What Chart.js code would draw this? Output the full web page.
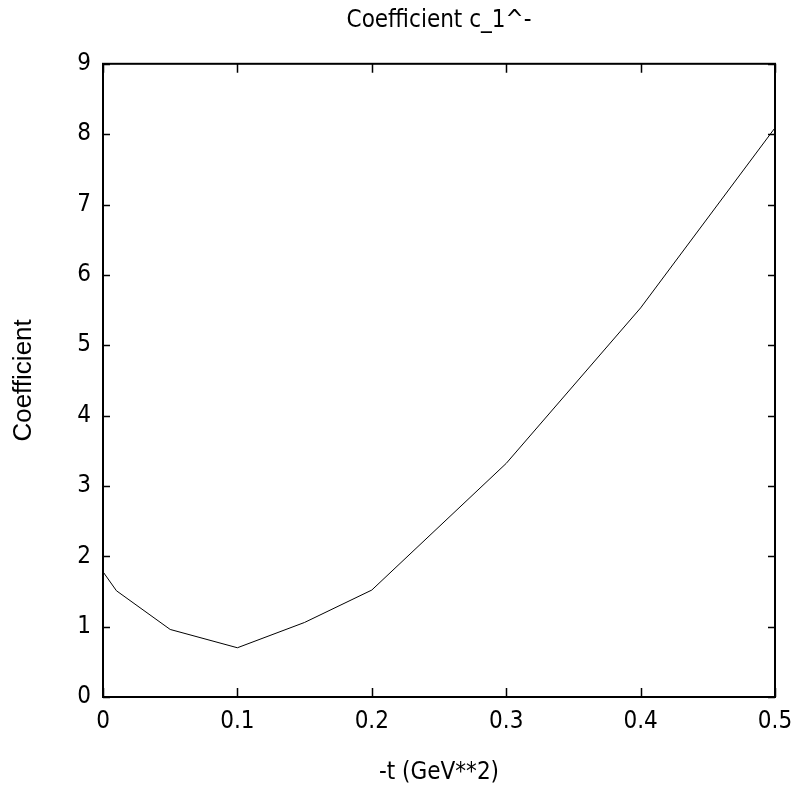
<!DOCTYPE html>
<html>
<head>
<meta charset="utf-8">
<script src="https://cdn.jsdelivr.net/npm/chart.js@4.4.1/dist/chart.umd.min.js"></script>
<style>
  html, body { margin: 0; padding: 0; background: #fff; }
  #wrap { width: 798px; height: 787px; }
</style>
</head>
<body>
<div id="wrap"><canvas id="coef-chart" width="798" height="787"></canvas></div>
<script>
// Data
const tValues = [0, 0.01, 0.05, 0.1, 0.15, 0.2, 0.3, 0.4, 0.5];
const coefValues = [1.78, 1.51, 0.96, 0.70, 1.06, 1.52, 3.32, 5.53, 8.09];
const xTickLabels = ['0', '0.1', '0.2', '0.3', '0.4', '0.5'];
const yTickLabels = ['0', '1', '2', '3', '4', '5', '6', '7', '8', '9'];

const narrow = '"Liberation Sans Narrow", "DejaVu Sans Condensed", "Arial Narrow", sans-serif';

Chart.defaults.color = '#000';

// Draws the box round the plot and the inward ticks on all four sides
const frameAndTicks = {
    id: 'frameAndTicks',
    afterDraw(chart) {
        const { ctx, chartArea: a, scales } = chart;
        ctx.save();
        ctx.strokeStyle = '#000';
        ctx.lineWidth = 1.5;
        for (const t of scales.x.ticks) {
            let px = Math.round(scales.x.getPixelForValue(t.value)) + 0.5;
            ctx.beginPath();
            ctx.moveTo(px, a.bottom); ctx.lineTo(px, a.bottom - 9);
            ctx.moveTo(px, a.top); ctx.lineTo(px, a.top + 9);
            ctx.stroke();
        }
        for (const t of scales.y.ticks) {
            let py = Math.round(scales.y.getPixelForValue(t.value)) + 0.5;
            ctx.beginPath();
            ctx.moveTo(a.left, py); ctx.lineTo(a.left + 7, py);
            ctx.moveTo(a.right, py); ctx.lineTo(a.right - 7, py);
            ctx.stroke();
        }
        ctx.lineWidth = 2;
        ctx.strokeRect(a.left, a.top, a.right - a.left, a.bottom - a.top);
        ctx.restore();
    }
};

const ctx = document.getElementById('coef-chart').getContext('2d');

const chart = new Chart(ctx, {
    type: 'line',
    data: {
        datasets: [
            {
                label: 'c_1^-',
                data: tValues.map((t, i) => ({ x: t, y: coefValues[i] })),
                borderColor: '#000',
                borderWidth: 1,
                pointRadius: 0,
                fill: false,
                tension: 0
            }
        ]
    },
    options: {
        responsive: false,
        animation: false,
        layout: {
            padding: { top: 0, right: 23, bottom: 0, left: 0 }
        },
        plugins: {
            legend: { display: false },
            tooltip: { enabled: false },
            title: {
                display: true,
                text: 'Coefficient c_1^-',
                fullSize: false,
                color: '#000',
                font: { family: narrow, size: 24, weight: 'normal' },
                padding: { top: 6, bottom: 29 }
            }
        },
        scales: {
            x: {
                type: 'linear',
                min: 0,
                max: 0.5,
                grid: { display: false, drawTicks: false },
                border: { display: false },
                ticks: {
                    stepSize: 0.1,
                    padding: 10,
                    maxRotation: 0,
                    font: { family: narrow, size: 24 },
                    callback: (value, index) => xTickLabels[index]
                },
                title: {
                    display: true,
                    text: '-t (GeV**2)',
                    font: { family: narrow, size: 24 },
                    padding: { top: 0, bottom: 0 }
                },
                afterFit: (scale) => {
                    scale.height = 90;
                    scale.paddingLeft = 0;
                    scale.paddingRight = 0;
                }
            },
            y: {
                min: 0,
                max: 9,
                grid: { display: false, drawTicks: false },
                border: { display: false },
                ticks: {
                    stepSize: 1,
                    padding: 12,
                    font: { family: narrow, size: 24 },
                    callback: (value, index) => yTickLabels[index]
                },
                title: {
                    display: true,
                    text: 'Coefficient',
                    font: { family: '"Liberation Sans", Arial, sans-serif', size: 26 },
                    padding: { top: 8, bottom: 0 }
                },
                afterFit: (scale) => { scale.width = 103; }
            }
        }
    },
    plugins: [frameAndTicks]
});
</script>
</body>
</html>
